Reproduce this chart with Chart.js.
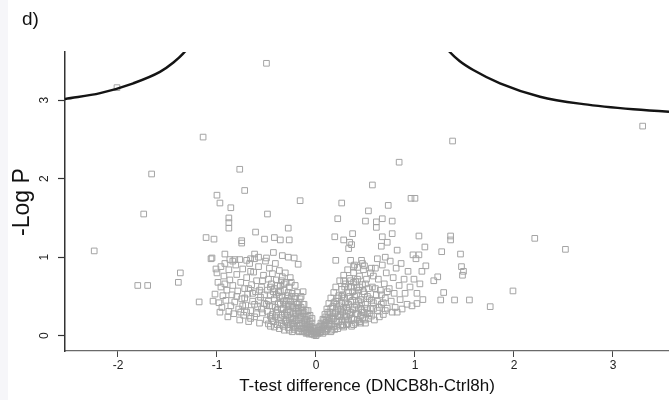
<!DOCTYPE html>
<html><head><meta charset="utf-8">
<script src="https://cdn.jsdelivr.net/npm/chart.js@4.4.1/dist/chart.umd.min.js"></script>
<style>
html,body{margin:0;padding:0;background:#fff;}
#wrap{position:relative;width:669px;height:400px;overflow:hidden;font-family:"Liberation Sans",Arial,sans-serif;background:#fff;}
#strip{position:absolute;left:0;top:0;width:8px;height:400px;background:#f6f6f9;}
canvas{position:absolute;left:0;top:0;}
.t{position:absolute;white-space:nowrap;color:#111;line-height:1;}
</style></head><body>
<div id="wrap">
<div id="strip"></div>
<canvas id="c" width="669" height="400"></canvas>
<div class="t" id="panel" style="left:22px;top:9px;font-size:19px;">d)</div>
<div class="t" id="ytitle" style="left:21px;top:202px;font-size:23px;transform:translate(-50%,-50%) rotate(-90deg);">-Log P</div>
<div class="t" id="xtitle" style="left:367px;top:385px;font-size:17px;transform:translate(-50%,-50%);">T-test difference (DNCB8h-Ctrl8h)</div>
</div>
<script>
// ---- data ----
const xTickValues = [-2, -1, 0, 1, 2, 3];
const yTickValues = [0, 1, 2, 3];
const xRange = [-2.535, 3.566];
const yRange = [-0.195, 3.614];

const leftCurveX = [-2.60, -2.535, -2.18, -1.845, -1.576, -1.45, -1.323, -1.28];
const leftCurveY = [3.00, 3.015, 3.09, 3.215, 3.36, 3.47, 3.62, 3.70];
const rightCurveX = [1.30, 1.347, 1.45, 1.589, 1.859, 2.263, 2.70, 3.205, 3.566, 3.62];
const rightCurveY = [3.70, 3.62, 3.50, 3.385, 3.215, 3.045, 2.95, 2.884, 2.853, 2.85];

const outlierPoints = [
 [-0.50,3.47],[-2.01,3.16],[3.30,2.67],[-1.14,2.53],[1.38,2.48],[0.84,2.21],[-0.77,2.12],[-1.66,2.06],
 [0.57,1.92],[-1.00,1.79],[-0.72,1.85],[-0.97,1.69],[-0.86,1.63],[-0.16,1.72],[0.26,1.69],[0.96,1.75],
 [1.00,1.75],[0.73,1.66],[0.53,1.59],[-1.74,1.55],[-0.49,1.55],[-0.88,1.50],[-0.88,1.44],[-0.88,1.37],
 [-2.24,1.08],[2.21,1.24],[2.52,1.10],[-1.80,0.64],[-1.70,0.64],[-1.37,0.80],[-1.39,0.68],[-1.18,0.43],
 [1.99,0.57],[1.76,0.37],[1.55,0.455],[1.40,0.455],[1.26,0.455],[1.29,0.55]
];
const upperPoints = [
 [0.22,1.49],[0.50,1.46],[0.61,1.45],[0.67,1.49],[0.77,1.46],[0.61,1.38],[-0.28,1.37],[-0.61,1.32],
 [0.37,1.30],[0.77,1.30],[-1.11,1.25],[-1.03,1.23],[-0.75,1.18],[-0.75,1.21],[-0.52,1.23],[-0.42,1.25],
 [-0.36,1.22],[-0.27,1.22],[0.19,1.26],[0.28,1.22],[0.34,1.19],[0.36,1.16],[0.33,1.11],[0.67,1.26],
 [0.72,1.19],[0.66,1.14],[1.04,1.27],[1.36,1.27],[1.36,1.22],[1.10,1.13],[1.27,1.07],[1.46,1.04],
 [0.98,1.03],[1.04,1.03],[1.01,0.98],[0.82,1.09],[1.47,0.88],[1.49,0.82],[1.48,0.77],[1.23,0.75],
 [1.19,0.70],[1.11,0.89],[1.07,0.82],[1.02,0.41],[-1.05,0.99],[-0.92,1.04],[-0.87,0.97],[-0.82,0.97],
 [-0.77,0.97],[-0.66,0.98],[-0.62,1.04],[-0.58,1.00],[-0.50,0.99],[-0.43,1.06],[-0.34,1.02],[-0.28,1.00],
 [-0.22,0.99],[-0.18,0.91],[0.20,0.96],[0.35,0.96],[0.38,0.88],[0.46,0.96],[0.49,0.89],[0.56,0.86]
];
const leftArmOuter = [
 [-1.06,0.98],[-1.04,0.44],[-1.02,0.53],[-1.01,0.85],[-1.00,0.80],[-0.99,0.68],[-0.97,0.30],[-0.96,0.62],
 [-0.95,0.36],[-0.94,0.51],[-0.93,0.76],[-0.92,0.92],[-0.91,0.45],[-0.90,0.58],[-0.89,0.24],[-0.88,0.84],
 [-0.87,0.71],[-0.86,0.38],[-0.85,0.52],[-0.84,0.64],[-0.83,0.28],[-0.82,0.43],[-0.81,0.90],[-0.80,0.78],
 [-0.79,0.57],[-0.78,0.34],[-0.77,0.20],[-0.76,0.68],[-0.75,0.47],[-0.74,0.85],[-0.73,0.26],[-0.72,0.60],
 [-0.71,0.39],[-0.70,0.74],[-0.69,0.53],[-0.68,0.18],[-0.67,0.92],[-0.66,0.32],[-0.65,0.65],[-0.64,0.44],
 [-0.63,0.81],[-0.62,0.24],[-0.61,0.56],[-0.60,0.70],[-0.59,0.37],[-0.58,0.88],[-0.57,0.16],[-0.56,0.49],
 [-0.55,0.62],[-0.54,0.29],[-0.53,0.77],[-0.52,0.41],[-0.51,0.95],[-0.50,0.20],[-0.84,0.95],[-0.96,0.88],
 [-0.70,0.96],[-0.62,0.98],[-0.98,0.42],[-0.92,0.66],[-0.80,0.50],[-0.66,0.82],[-0.58,0.45],[-0.76,0.30],
 [-0.88,0.31],[-0.54,0.70],[-0.50,0.40],[-0.52,0.52],[-0.55,0.34],[-0.57,0.58],[-0.60,0.28],[-0.62,0.40],
 [-0.64,0.54],[-0.66,0.22],[-0.68,0.60],[-0.70,0.30],[-0.72,0.48],[-0.74,0.38]
];
const leftArmInner = [
 [-0.49,0.31],[-0.49,0.58],[-0.48,0.15],[-0.48,0.44],[-0.48,0.72],[-0.47,0.86],[-0.46,0.25],[-0.46,0.52],
 [-0.45,0.66],[-0.44,0.38],[-0.44,0.79],[-0.43,0.18],[-0.42,0.47],[-0.42,0.60],[-0.41,0.92],[-0.40,0.30],
 [-0.40,0.71],[-0.39,0.14],[-0.38,0.41],[-0.38,0.55],[-0.37,0.83],[-0.36,0.23],[-0.36,0.64],[-0.35,0.34],
 [-0.34,0.49],[-0.34,0.75],[-0.33,0.12],[-0.32,0.28],[-0.32,0.58],[-0.31,0.40],[-0.30,0.68],[-0.30,0.20],
 [-0.29,0.51],[-0.28,0.10],[-0.28,0.33],[-0.27,0.62],[-0.26,0.44],[-0.26,0.74],[-0.25,0.24],[-0.24,0.15],
 [-0.24,0.54],[-0.23,0.36],[-0.22,0.08],[-0.22,0.47],[-0.21,0.28],[-0.21,0.64],[-0.20,0.19],[-0.19,0.40],
 [-0.19,0.55],[-0.18,0.06],[-0.18,0.31],[-0.17,0.13],[-0.16,0.23],[-0.16,0.47],[-0.15,0.36],[-0.14,0.05],
 [-0.14,0.16],[-0.13,0.28],[-0.13,0.56],[-0.12,0.40],[-0.11,0.10],[-0.11,0.21],[-0.10,0.32],[-0.09,0.04],
 [-0.09,0.15],[-0.08,0.25],[-0.07,0.08],[-0.06,0.18],[-0.05,0.03],[-0.05,0.12],[-0.04,0.22],[-0.03,0.06],
 [-0.02,0.01],[-0.01,0.09],[0.00,0.00],[0.00,0.04],[-0.45,0.22],[-0.41,0.36],[-0.37,0.50],[-0.33,0.44],
 [-0.29,0.16],[-0.27,0.38],[-0.23,0.12],[-0.20,0.34],[-0.17,0.42],[-0.15,0.09],[-0.12,0.19],[-0.10,0.07],
 [-0.07,0.14],[-0.35,0.70],[-0.43,0.56],[-0.39,0.64],[-0.31,0.80],[-0.47,0.38],[-0.25,0.68]
];
const leftArmCore = [
 [-0.46,0.12],[-0.44,0.27],[-0.42,0.11],[-0.41,0.24],[-0.39,0.33],[-0.38,0.20],[-0.37,0.09],[-0.36,0.40],
 [-0.35,0.16],[-0.34,0.26],[-0.33,0.35],[-0.32,0.07],[-0.31,0.18],[-0.30,0.45],[-0.30,0.30],[-0.29,0.26],
 [-0.28,0.40],[-0.27,0.07],[-0.27,0.20],[-0.26,0.30],[-0.26,0.14],[-0.25,0.50],[-0.24,0.05],[-0.24,0.38],
 [-0.23,0.22],[-0.23,0.28],[-0.22,0.16],[-0.21,0.10],[-0.21,0.50],[-0.20,0.25],[-0.20,0.42],[-0.19,0.13],
 [-0.18,0.20],[-0.18,0.36],[-0.17,0.05],[-0.17,0.29],[-0.16,0.15],[-0.15,0.25],[-0.15,0.50],[-0.14,0.32],
 [-0.13,0.10],[-0.13,0.40],[-0.12,0.06],[-0.12,0.30],[-0.11,0.15],[-0.10,0.24],[-0.10,0.03],[-0.09,0.10],
 [-0.09,0.20],[-0.08,0.05],[-0.08,0.32],[-0.07,0.02],[-0.06,0.11],[-0.06,0.26],[-0.05,0.07],[-0.04,0.02],
 [-0.04,0.16],[-0.03,0.10],[-0.02,0.05],[-0.01,0.03],[-0.46,0.62],[-0.40,0.52],[-0.36,0.57],[-0.32,0.66],
 [-0.28,0.55]
];
const rightArmInner = [
 [0.01,0.02],[0.02,0.07],[0.03,0.11],[0.04,0.04],[0.05,0.16],[0.06,0.08],[0.07,0.21],[0.08,0.12],
 [0.09,0.05],[0.09,0.27],[0.10,0.17],[0.11,0.34],[0.12,0.09],[0.12,0.23],[0.13,0.41],[0.14,0.14],
 [0.14,0.30],[0.15,0.48],[0.16,0.07],[0.16,0.21],[0.17,0.37],[0.18,0.55],[0.18,0.12],[0.19,0.28],
 [0.20,0.44],[0.20,0.62],[0.21,0.18],[0.22,0.09],[0.22,0.34],[0.23,0.51],[0.24,0.70],[0.24,0.24],
 [0.25,0.14],[0.26,0.41],[0.26,0.59],[0.27,0.30],[0.28,0.77],[0.28,0.11],[0.29,0.48],[0.30,0.20],
 [0.30,0.66],[0.31,0.36],[0.32,0.84],[0.32,0.15],[0.33,0.55],[0.34,0.27],[0.34,0.73],[0.35,0.43],
 [0.36,0.12],[0.36,0.62],[0.37,0.33],[0.38,0.80],[0.38,0.21],[0.39,0.50],[0.40,0.69],[0.40,0.16],
 [0.41,0.39],[0.42,0.87],[0.42,0.28],[0.43,0.58],[0.44,0.18],[0.44,0.76],[0.45,0.46],[0.46,0.33],
 [0.47,0.65],[0.47,0.22],[0.48,0.84],[0.49,0.53],[0.50,0.40],[0.50,0.16],[0.51,0.72],[0.52,0.28],
 [0.53,0.60],[0.54,0.47],[0.55,0.35],[0.55,0.80],[0.10,0.06],[0.13,0.19],[0.17,0.25],[0.21,0.40],
 [0.25,0.33],[0.27,0.52],[0.31,0.24],[0.33,0.40],[0.37,0.56],[0.41,0.61],[0.45,0.25],[0.49,0.30],
 [0.29,0.62],[0.35,0.70],[0.39,0.90],[0.43,0.44],[0.47,0.92],[0.53,0.22]
];
const rightArmCore = [
 [0.01,0.05],[0.02,0.03],[0.03,0.07],[0.04,0.12],[0.05,0.05],[0.06,0.14],[0.07,0.03],[0.07,0.10],
 [0.08,0.20],[0.09,0.14],[0.10,0.24],[0.11,0.08],[0.11,0.20],[0.12,0.30],[0.13,0.12],[0.14,0.22],
 [0.15,0.05],[0.15,0.35],[0.16,0.15],[0.17,0.30],[0.18,0.22],[0.18,0.42],[0.19,0.08],[0.20,0.30],
 [0.21,0.12],[0.22,0.25],[0.22,0.48],[0.23,0.18],[0.24,0.38],[0.25,0.27],[0.26,0.20],[0.26,0.50],
 [0.27,0.13],[0.28,0.36],[0.29,0.25],[0.30,0.42],[0.31,0.14],[0.32,0.32],[0.33,0.20],[0.34,0.50],
 [0.35,0.30],[0.36,0.22],[0.37,0.45],[0.38,0.14],[0.39,0.36],[0.40,0.28],[0.41,0.52],[0.42,0.20],
 [0.43,0.34],[0.44,0.62],[0.45,0.16],[0.46,0.42],[0.47,0.30],[0.48,0.56],[0.49,0.20],[0.50,0.66],
 [0.51,0.35],[0.52,0.50],[0.54,0.28],[0.56,0.45],[0.58,0.34],[0.60,0.60],[0.62,0.44],[0.64,0.36],
 [0.66,0.52],[0.68,0.42],[0.70,0.32],[0.72,0.56],[0.28,0.70],[0.33,0.62],[0.38,0.68],[0.42,0.72]
];
const rightArmOuter = [
 [0.56,0.25],[0.57,0.62],[0.58,0.42],[0.59,0.20],[0.60,0.86],[0.61,0.52],[0.62,0.32],[0.63,0.72],
 [0.64,0.24],[0.65,0.58],[0.66,0.40],[0.67,0.90],[0.68,0.27],[0.69,0.66],[0.70,0.48],[0.71,0.80],
 [0.72,0.35],[0.74,0.60],[0.75,0.95],[0.76,0.44],[0.77,0.30],[0.78,0.74],[0.79,0.54],[0.80,0.36],
 [0.81,0.86],[0.82,0.30],[0.84,0.64],[0.85,0.46],[0.86,0.92],[0.87,0.34],[0.89,0.72],[0.90,0.54],
 [0.92,0.40],[0.93,0.82],[0.95,0.62],[0.97,0.38],[0.99,0.72],[1.02,0.54],[1.05,0.66],[1.08,0.46],
 [0.62,0.98],[0.70,1.00],[0.58,0.76]
];

// ---- build ----
const toXY = arr => arr.map(p => ({x: p[0], y: p[1]}));
const allPoints = [].concat(outlierPoints, upperPoints, leftArmOuter, leftArmInner, leftArmCore,
                            rightArmInner, rightArmCore, rightArmOuter);
const curve = (xs, ys) => xs.map((x, i) => ({x: x, y: ys[i]}));

const tickFont = {family: "'Liberation Sans', Arial, sans-serif", size: 12};
const curveStyle = {showLine: true, pointRadius: 0, borderColor: '#141414', borderWidth: 2.5,
  cubicInterpolationMode: 'monotone', fill: false, backgroundColor: 'transparent'};

new Chart(document.getElementById('c'), {
  type: 'scatter',
  data: {
    datasets: [
      Object.assign({data: curve(leftCurveX, leftCurveY)}, curveStyle),
      Object.assign({data: curve(rightCurveX, rightCurveY)}, curveStyle),
      {data: toXY(allPoints), pointStyle: 'rect', pointRadius: 4, borderWidth: 1,
       borderColor: '#a4a4a4', backgroundColor: 'rgba(255,255,255,0)', showLine: false}
    ]
  },
  options: {
    responsive: false, animation: false, devicePixelRatio: 1, events: [],
    layout: {autoPadding: false, padding: {top: 52, left: 0, right: 0, bottom: 0}},
    plugins: {legend: {display: false}, tooltip: {enabled: false}, title: {display: false}},
    scales: {
      x: {
        type: 'linear', min: xRange[0], max: xRange[1],
        afterBuildTicks: s => { s.ticks = xTickValues.map(v => ({value: v})); },
        afterFit: s => { s.height = 49; s.paddingLeft = 0; s.paddingRight = 0; },
        grid: {drawOnChartArea: false, drawTicks: true, tickLength: 6, tickColor: '#444', tickWidth: 1},
        border: {display: true, color: '#6a6a6a', width: 1.2},
        ticks: {font: tickFont, color: '#222', padding: 1, maxRotation: 0, minRotation: 0, autoSkip: false}
      },
      y: {
        type: 'linear', min: yRange[0], max: yRange[1],
        afterBuildTicks: s => { s.ticks = yTickValues.map(v => ({value: v})); },
        afterFit: s => { s.width = 65; s.paddingTop = 0; s.paddingBottom = 0; },
        grid: {drawOnChartArea: false, drawTicks: true, tickLength: 7, tickColor: '#333', tickWidth: 1.2},
        border: {display: true, color: '#333', width: 1.5},
        ticks: {font: tickFont, color: '#222', padding: 10, minRotation: 90, maxRotation: 90,
                crossAlign: 'center', autoSkip: false}
      }
    }
  }
});
</script>
</body></html>
